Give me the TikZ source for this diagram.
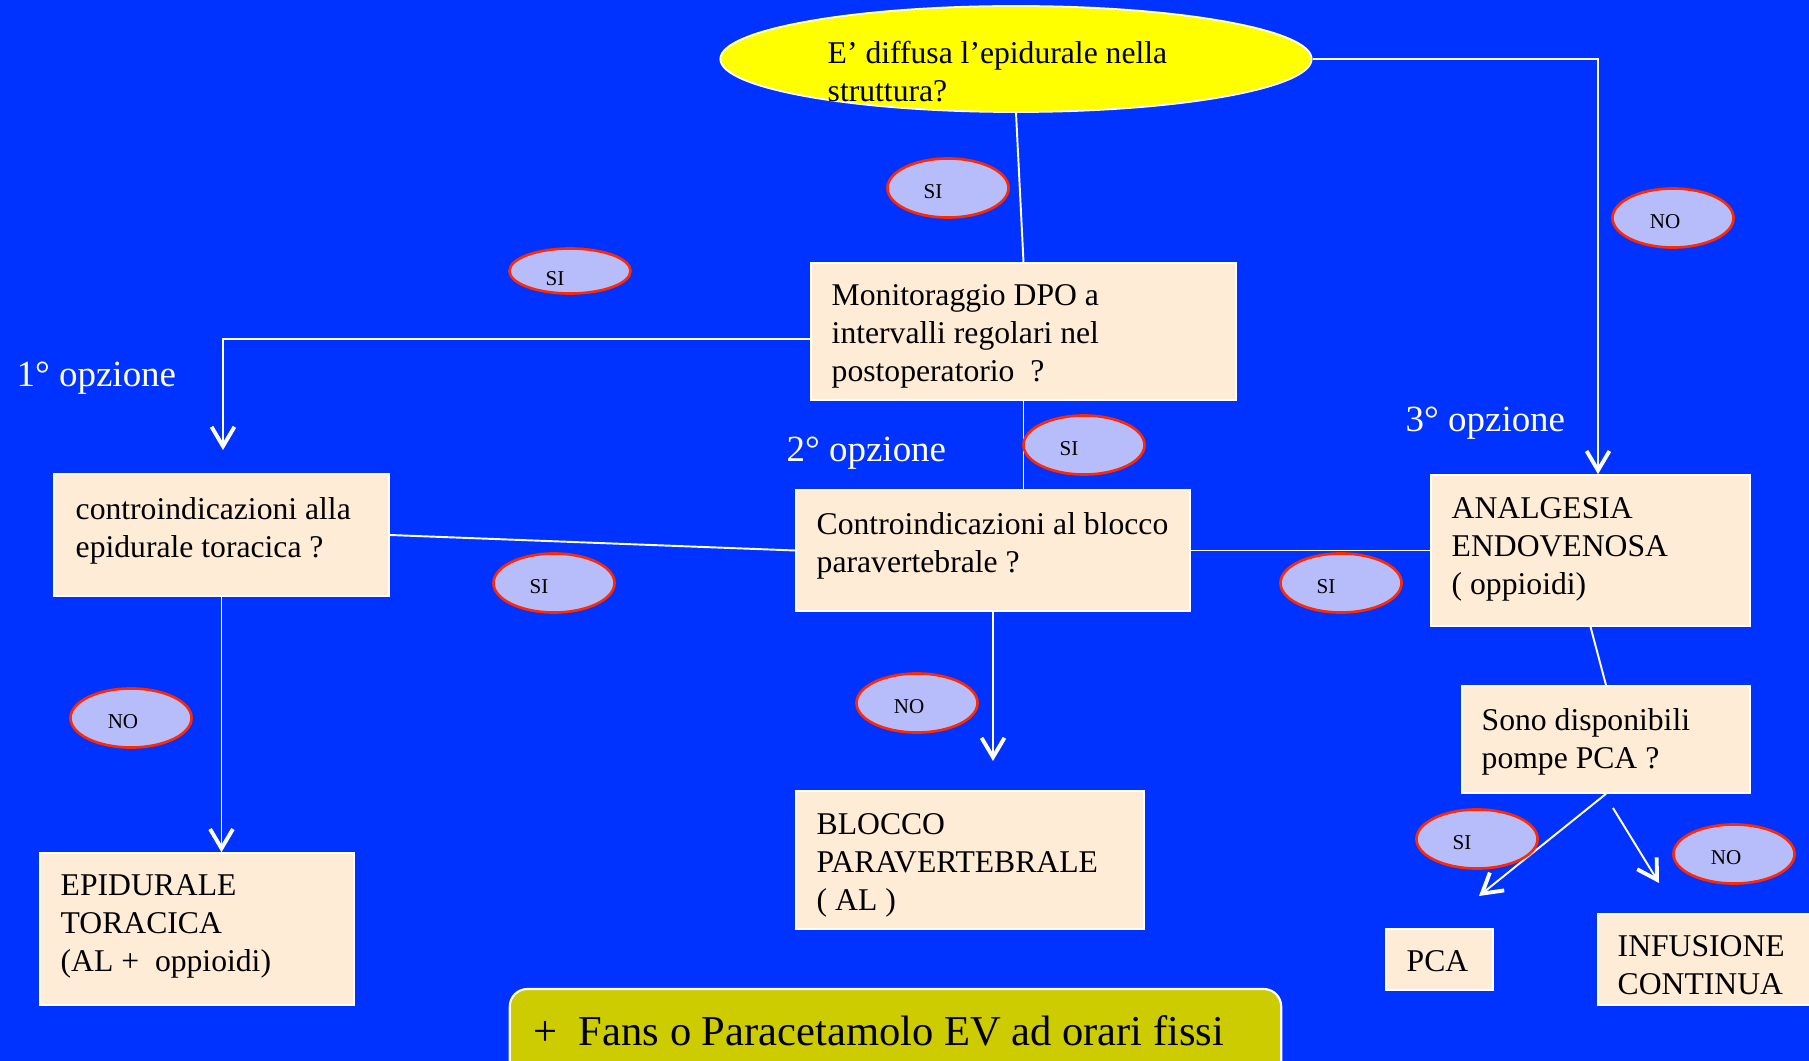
\documentclass[tikz,border=0pt]{standalone}
\usepackage{fontspec}
\setmainfont{Liberation Serif}
\usetikzlibrary{arrows.meta,shapes.geometric,calc}
\definecolor{bgblue}{RGB}{0,51,255}
\definecolor{boxfill}{RGB}{255,236,214}
\definecolor{lav}{RGB}{183,188,250}
\definecolor{redline}{RGB}{255,40,0}
\definecolor{yel}{RGB}{255,255,0}
\definecolor{olive}{RGB}{204,204,0}
\newcommand{\sitxt}{SI\hspace*{0.30cm}}
\newcommand{\notxt}{NO\hspace*{0.16cm}}
\begin{document}
\begin{tikzpicture}[x=0.01cm,y=-0.01cm,
  box/.style={rectangle, draw=white, line width=0.45pt, fill=boxfill, inner sep=0pt},
  tag/.style={ellipse, draw=redline, line width=0.75pt, fill=lav, minimum width=1.21cm, minimum height=0.59cm, inner sep=0pt, text height=6pt, text depth=0pt, font=\fontsize{6}{7}\selectfont},
  conn/.style={draw=white, line width=0.55pt},
  arr/.style={conn, -{Straight Barb[length=5.5pt, width=6.5pt, line width=1.1pt]}},
  txt/.style={anchor=west, align=left, inner sep=0pt, font=\fontsize{9}{10.8}\selectfont},
  opt/.style={anchor=west, inner sep=0pt, text=white, font=\fontsize{10.5}{12.5}\selectfont}]
\useasboundingbox (0,0) rectangle (1809,1061);
\clip (0,0) rectangle (1809,1061);
\fill[bgblue] (0,0) rectangle (1809,1061);

% question ellipse
\node[ellipse, fill=yel, draw=white, line width=0.5pt, minimum width=5.91cm, minimum height=1.06cm, inner sep=0pt] (q) at (1016,59) {};
\node[txt] (qt) at (827,72) {E’ diffusa l’epidurale nella\\struttura?};

% boxes
\node[box, minimum width=4.25cm, minimum height=1.37cm] (mon) at (1023.5,331.5) {};
\node[txt] (mont) at (831,336.5) {Monitoraggio DPO a\\intervalli regolari nel\\postoperatorio\ \ ?};

\node[box, minimum width=3.35cm, minimum height=1.22cm] (ctr) at (221.5,535) {};
\node[txt] (ctrt) at (75,530.5) {controindicazioni alla\\epidurale toracica ?};

\node[box, minimum width=3.94cm, minimum height=1.21cm] (cpv) at (993,550.5) {};
\node[txt] (cpvt) at (816,545.5) {Controindicazioni al blocco\\paravertebrale ?};

\node[box, minimum width=3.19cm, minimum height=1.51cm] (ana) at (1590.5,550.5) {};
\node[txt] (anat) at (1451,549.5) {ANALGESIA\\ENDOVENOSA\\( oppioidi)};

\node[box, minimum width=2.88cm, minimum height=1.07cm] (pmp) at (1606,739.5) {};
\node[txt] (pmpt) at (1481,741.5) {Sono disponibili\\pompe PCA ?};

\node[box, minimum width=1.07cm, minimum height=0.61cm] (pca) at (1439.5,959.5) {};
\node[txt] (pcat) at (1406,961) {PCA};

\node[box, minimum width=2.22cm, minimum height=0.91cm] (inf) at (1709,959.5) {};
\node[txt] (inft) at (1617,965) {INFUSIONE\\CONTINUA};

\node[box, minimum width=3.14cm, minimum height=1.52cm] (epi) at (197,929) {};
\node[txt] (epit) at (60,926.5) {EPIDURALE\\TORACICA\\(AL +\ \ oppioidi)};

\node[box, minimum width=3.48cm, minimum height=1.38cm] (blo) at (970,860) {};
\node[txt] (blot) at (816,865.5) {BLOCCO\\PARAVERTEBRALE\\( AL )};

\node[rectangle, rounded corners=5pt, draw=white, line width=0.6pt, fill=olive, minimum width=7.71cm, minimum height=0.95cm, inner sep=0pt] (fans) at (895.5,1036.5) {};
\node[anchor=west, inner sep=0pt, font=\fontsize{12.1}{14}\selectfont] (fanst) at (533,1031) {+\ \ Fans o Paracetamolo EV ad orari fissi};

% option labels
\node[opt] (o1) at (16,378.5) {1° opzione};
\node[opt] (o2) at (786,453.5) {2° opzione};
\node[opt] (o3) at (1405,423.5) {3° opzione};

% free arrow ends
\coordinate (a1) at (223,450);
\coordinate (a2) at (993,761);
\coordinate (a3) at (1479,896);
\coordinate (b1) at (1613,808);
\coordinate (b2) at (1659,883);

% connectors
\draw[conn] (q.south) -- (mon.north);
\draw[arr] (q.east) -| ($(ana.north)+(7.5,0)$);
\draw[arr] ($(mon.west)+(0,7.5)$) -| (a1);
\draw[conn] (ctr.east) -- (cpv.west);
\draw[conn] (mon.south) -- (mon.south |- cpv.north);
\draw[conn] (cpv.east) -- (ana.west);
\draw[arr] (ctr.south) -- (ctr.south |- epi.north);
\draw[arr] (cpv.south) -- (a2);
\draw[conn] (ana.south) -- (pmp.north);
\draw[arr] (pmp.south) -- (a3);
\draw[arr] (b1) -- (b2);

% SI / NO tags
\node[tag] (s1) at (948,188) {\sitxt};
\node[tag, minimum height=0.45cm, text height=8pt] (s2) at (570,271) {\sitxt};
\node[tag] (n1) at (1673,218) {\notxt};
\node[tag] (s3) at (554,583) {\sitxt};
\node[tag] (s4) at (1084,445) {\sitxt};
\node[tag] (s5) at (1341,583) {\sitxt};
\node[tag] (s6) at (1477,839) {\sitxt};
\node[tag] (n2) at (1734,854) {\notxt};
\node[tag] (n3) at (131,718) {\notxt};
\node[tag] (n4) at (917,703) {\notxt};
\end{tikzpicture}
\end{document}
